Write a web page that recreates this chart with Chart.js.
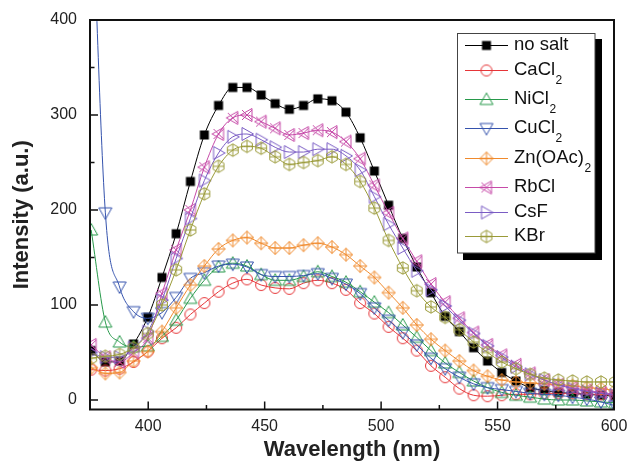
<!DOCTYPE html>
<html>
<head>
<meta charset="utf-8">
<script src="https://cdn.jsdelivr.net/npm/chart.js@4.4.1/dist/chart.umd.min.js"></script>
<style>
  html, body { margin: 0; padding: 0; background: #fff; }
  #chart { display: block; }
</style>
</head>
<body>
<canvas id="chart" width="627" height="463"></canvas>
<script>
const wavelength = [375.5, 381.6, 387.7, 393.7, 399.8, 405.9, 412.0, 418.1, 424.1, 430.2,
  436.3, 442.4, 448.5, 454.5, 460.6, 466.7, 472.8, 478.9, 484.9, 491.0,
  497.1, 503.2, 509.3, 515.3, 521.4, 527.5, 533.6, 539.7, 545.7, 551.8,
  557.9, 564.0, 570.1, 576.1, 582.2, 588.3, 594.4, 600.5];

const noSalt = [52, 40, 41, 59, 87, 129, 175, 230, 279, 310, 329, 329, 321, 312, 306, 310, 317, 315, 303, 276,
  241, 205, 170, 140, 113, 88, 72, 55, 41, 29, 20, 13, 10, 8, 7, 6, 5, 4];
const caCl2 = [32, 31, 33, 40, 51, 65, 76, 90, 102, 114, 123, 127, 121, 118, 117, 123, 126, 123, 116, 102,
  91, 77, 65, 52, 36, 24, 12, 5, 4, 5, 6, 6, 7, 7, 7, 6, 6, 5];
const niCl2 = [179, 82, 61, 56, 57, 67, 84, 107, 126, 140, 144, 141, 132, 126, 126, 130, 135, 130, 124, 114,
  103, 92, 79, 66, 52, 39, 29, 20, 13, 8, 5, 3, 1, 0, 0, -1, -2, -3];
const cuCl2 = [560, 197, 119, 93, 86, 92, 108, 128, 134, 141, 143, 140, 132, 130, 130, 131, 133, 128, 122, 112,
  97, 84, 71, 58, 44, 33, 24, 17, 13, 11, 9, 7, 6, 5, 3, 1, -2, -6];
const znOAc2 = [34, 28, 29, 41, 51, 72, 97, 121, 141, 159, 168, 171, 165, 160, 160, 163, 165, 161, 153, 141,
  129, 113, 97, 79, 64, 52, 41, 31, 25, 21, 19, 18, 17, 16, 15, 13, 12, 10];
const rbCl = [58, 45, 40, 50, 65, 112, 158, 200, 245, 280, 297, 300, 293, 286, 279, 281, 284, 282, 272, 254,
  226, 197, 170, 146, 122, 103, 86, 71, 58, 47, 37, 28, 21, 16, 13, 10, 8, 6];
const csF = [50, 45, 45, 55, 72, 105, 149, 191, 231, 260, 277, 280, 274, 266, 261, 261, 264, 264, 257, 242,
  214, 185, 160, 136, 116, 99, 84, 70, 57, 45, 35, 27, 21, 16, 12, 9, 7, 5];
const kBr = [44, 46, 48, 55, 70, 100, 137, 179, 217, 246, 263, 267, 265, 256, 248, 250, 252, 256, 248, 230,
  202, 168, 139, 115, 98, 87, 74, 61, 50, 40, 33, 27, 23, 21, 20, 19, 19, 19];

const seriesNames = ['no salt', 'CaCl2', 'NiCl2', 'CuCl2', 'Zn(OAc)2', 'RbCl', 'CsF', 'KBr'];
const seriesValues = [noSalt, caCl2, niCl2, cuCl2, znOAc2, rbCl, csF, kBr];

const xTicks = [400, 450, 500, 550, 600];
const xMinorTicks = [425, 475, 525, 575];
const yTicks = [0, 100, 200, 300, 400];
const yMinorTicks = [50, 150, 250, 350];

const colors = ['#000000', '#e63538', '#27994a', '#3553ad', '#f08a2c', '#c64aa8', '#7a5cc4', '#9a9a38'];
const markerKinds = ['square', 'circle', 'triUp', 'triDown', 'diamondPlus', 'triLeftX', 'triRight', 'hexPlus'];

const FONT = "'Liberation Sans', Arial, sans-serif";

function makeMarker(kind, color) {
  const c = document.createElement('canvas');
  c.width = 16;
  c.height = 16;
  const g = c.getContext('2d');
  g.strokeStyle = color;
  g.fillStyle = color;
  g.lineWidth = 1;
  g.translate(8, 8);
  g.beginPath();
  switch (kind) {
    case 'square':
      g.fillRect(-4.5, -4.5, 9, 9);
      return c;
    case 'circle':
      g.arc(0, 0, 5.5, 0, Math.PI * 2);
      break;
    case 'triUp':
      g.moveTo(0, -6.5); g.lineTo(6.5, 5); g.lineTo(-6.5, 5); g.closePath();
      break;
    case 'triDown':
      g.moveTo(0, 6.5); g.lineTo(6.5, -5); g.lineTo(-6.5, -5); g.closePath();
      break;
    case 'triRight':
      g.moveTo(6.5, 0); g.lineTo(-5, -6.5); g.lineTo(-5, 6.5); g.closePath();
      break;
    case 'triLeftX':
      g.moveTo(-6.5, 0); g.lineTo(5, -6.5); g.lineTo(5, 6.5); g.closePath();
      g.moveTo(-5, -5); g.lineTo(5, 5);
      g.moveTo(-5, 5); g.lineTo(5, -5);
      break;
    case 'diamondPlus':
      g.moveTo(0, -6.5); g.lineTo(6.5, 0); g.lineTo(0, 6.5); g.lineTo(-6.5, 0); g.closePath();
      g.moveTo(0, -6.5); g.lineTo(0, 6.5);
      g.moveTo(-6.5, 0); g.lineTo(6.5, 0);
      break;
    case 'hexPlus':
      for (let i = 0; i < 6; i++) {
        const a = -Math.PI / 2 + i * Math.PI / 3;
        const px = 6.2 * Math.cos(a), py = 6.2 * Math.sin(a);
        if (i === 0) g.moveTo(px, py); else g.lineTo(px, py);
      }
      g.closePath();
      g.moveTo(0, -6.2); g.lineTo(0, 6.2);
      g.moveTo(-5.4, 0); g.lineTo(5.4, 0);
      break;
  }
  g.stroke();
  return c;
}

const markers = markerKinds.map((k, i) => makeMarker(k, colors[i]));

const frameAndTicks = {
  id: 'frameAndTicks',
  afterDatasetsDraw(chart) {
    const { ctx, chartArea: a, scales: { x, y } } = chart;
    ctx.save();
    ctx.strokeStyle = '#111';
    ctx.lineWidth = 2;
    ctx.strokeRect(a.left, a.top, a.right - a.left, a.bottom - a.top);
    ctx.lineWidth = 1.5;
    ctx.beginPath();
    xTicks.forEach(v => { const p = x.getPixelForValue(v); ctx.moveTo(p, a.bottom); ctx.lineTo(p, a.bottom - 8); });
    xMinorTicks.forEach(v => { const p = x.getPixelForValue(v); ctx.moveTo(p, a.bottom); ctx.lineTo(p, a.bottom - 4.5); });
    yTicks.forEach(v => { const p = y.getPixelForValue(v); ctx.moveTo(a.left, p); ctx.lineTo(a.left + 8, p); });
    yMinorTicks.forEach(v => { const p = y.getPixelForValue(v); ctx.moveTo(a.left, p); ctx.lineTo(a.left + 4.5, p); });
    ctx.stroke();
    ctx.restore();
  }
};

const legendBox = {
  id: 'legendBox',
  afterDraw(chart) {
    const ctx = chart.ctx;
    const rows = [45, 70, 99, 128, 158, 187, 212, 236];
    ctx.save();
    ctx.fillStyle = '#000';
    ctx.fillRect(595, 39, 7, 221);
    ctx.fillRect(463, 253, 139, 7);
    ctx.fillStyle = '#fff';
    ctx.fillRect(457.5, 33.5, 137.5, 219.5);
    ctx.strokeStyle = '#444';
    ctx.lineWidth = 1;
    ctx.strokeRect(457.5, 33.5, 137.5, 219.5);

    seriesNames.forEach((name, i) => {
      const yy = rows[i];
      ctx.strokeStyle = colors[i];
      ctx.lineWidth = 1;
      ctx.beginPath();
      ctx.moveTo(465, yy + 0.5);
      ctx.lineTo(508, yy + 0.5);
      ctx.stroke();
      ctx.drawImage(markers[i], 486.5 - 8, yy + 0.5 - 8);

      const m = name.match(/^(.*[a-zA-Z)])2$/);
      const base = m ? m[1] : name;
      ctx.fillStyle = '#111';
      ctx.textBaseline = 'middle';
      ctx.textAlign = 'left';
      ctx.font = '18.5px ' + FONT;
      ctx.fillText(base, 514, yy);
      if (m) {
        const w = ctx.measureText(base).width;
        ctx.font = '12px ' + FONT;
        ctx.fillText('2', 514 + w + 0.5, yy + 11);
      }
    });
    ctx.restore();
  }
};

const datasets = seriesNames.map((name, i) => ({
  label: name,
  data: wavelength.map((w, j) => ({ x: w, y: seriesValues[i][j] })),
  borderColor: colors[i],
  backgroundColor: colors[i],
  borderWidth: 1,
  cubicInterpolationMode: 'monotone',
  pointStyle: markers[i],
  pointRadius: 6,
  clip: 0,
  order: seriesNames.length - i
}));

new Chart(document.getElementById('chart'), {
  type: 'line',
  data: { datasets },
  options: {
    responsive: false,
    animation: false,
    events: [],
    layout: { padding: { left: 0, top: 20, right: 13, bottom: 0 } },
    plugins: { legend: { display: false }, tooltip: { enabled: false } },
    scales: {
      x: {
        type: 'linear',
        min: 375,
        max: 600,
        afterBuildTicks: s => { s.ticks = xTicks.map(v => ({ value: v })); },
        afterFit: s => { s.height = 53.5; s.paddingLeft = 0; s.paddingRight = 0; },
        grid: { display: false, drawTicks: false },
        border: { display: false },
        ticks: { padding: 7, color: '#222', font: { family: FONT, size: 16 } },
        title: {
          display: true,
          text: 'Wavelength (nm)',
          color: '#222',
          padding: { top: 0, bottom: 0 },
          font: { family: FONT, size: 22, weight: 'bold' }
        }
      },
      y: {
        min: -10,
        max: 400,
        afterBuildTicks: s => { s.ticks = yTicks.map(v => ({ value: v })); },
        afterFit: s => { s.width = 90; s.paddingTop = 0; s.paddingBottom = 0; },
        grid: { display: false, drawTicks: false },
        border: { display: false },
        ticks: { padding: 13, color: '#222', font: { family: FONT, size: 16 } },
        title: {
          display: true,
          text: 'Intensity (a.u.)',
          color: '#222',
          padding: { top: 9, bottom: 0 },
          font: { family: FONT, size: 22, weight: 'bold' }
        }
      }
    }
  },
  plugins: [frameAndTicks, legendBox]
});
</script>
</body>
</html>
